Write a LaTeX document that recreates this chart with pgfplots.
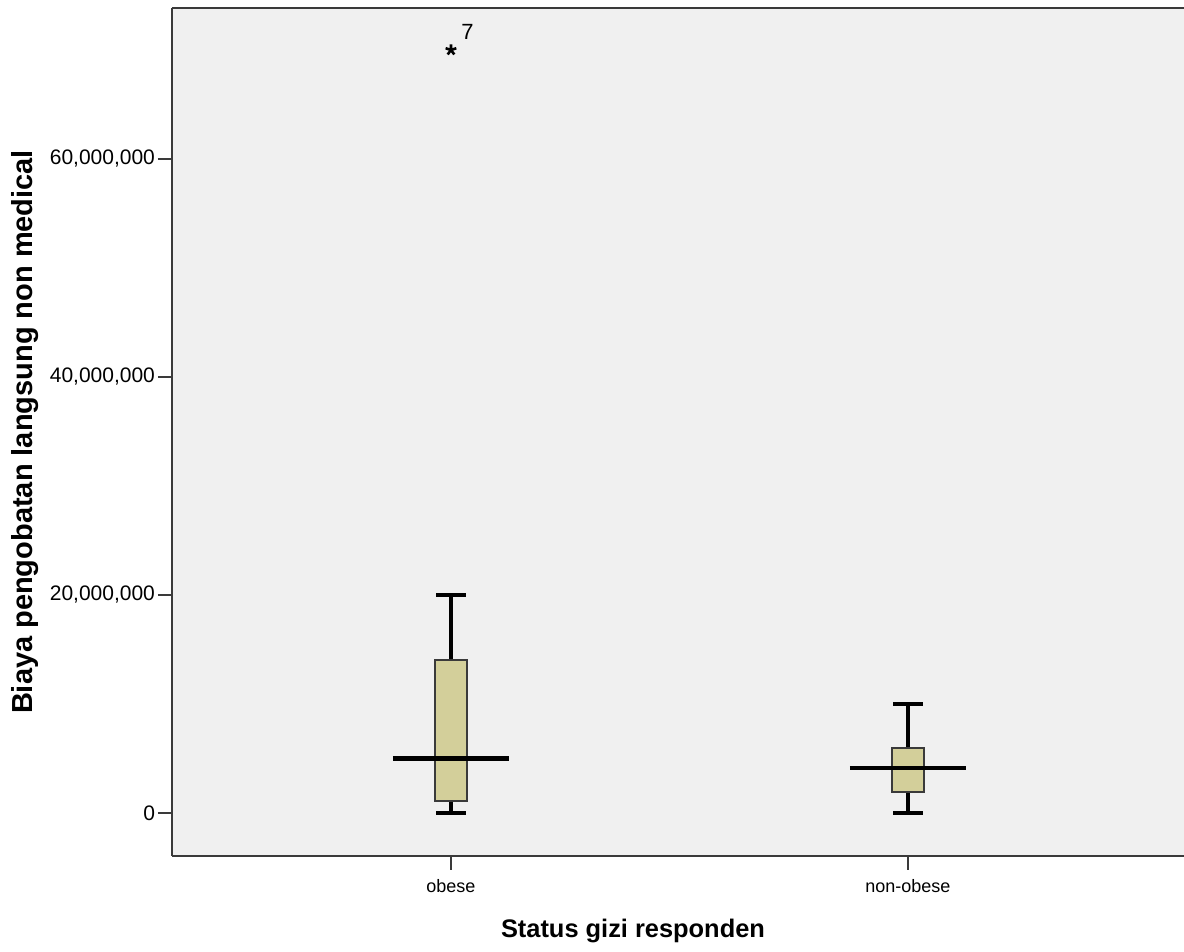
\documentclass[border=0pt]{standalone}
\usepackage{pgfplots}
\pgfplotsset{compat=1.18}
\usepgfplotslibrary{statistics}
\usepackage{fontspec}
\setmainfont{Liberation Sans}
\definecolor{bggray}{HTML}{F0F0F0}
\definecolor{boxfill}{HTML}{D3CF9A}
\definecolor{frame}{HTML}{3A3A3A}
\begin{document}
\begin{tikzpicture}
\begin{axis}[
  at={(0,0)}, anchor=south west,
  scale only axis, width=506pt, height=424pt,
  xmin=0.3895, xmax=2.604,
  ymin=-3.945, ymax=73.85,
  axis background/.style={fill=bggray},
  axis x line*=bottom, axis y line*=left,
  axis line style={-, draw=frame, line width=1.4pt},
  xtick={1,2}, xticklabels={obese,non-obese},
  ytick={0,20,40,60},
  yticklabels={0,{20,000,000},{40,000,000},{60,000,000}},
  tick align=outside, major tick length=7pt,
  tick style={draw=frame, line width=0.8pt},
  ticklabel style={font=\fontsize{10.5}{12}\selectfont},
  yticklabel style={xshift=2pt},
  xticklabel style={font=\fontsize{9}{11}\selectfont, yshift=-1pt},
  ylabel={\bfseries Biaya pengobatan langsung non medical},
  ylabel style={font=\fontsize{14.5}{16}\selectfont, at={(axis description cs:0,0.5)}, anchor=center, yshift=73.5pt},
  xlabel={\bfseries Status gizi responden},
  xlabel style={font=\fontsize{12.7}{14}\selectfont, at={(axis description cs:0.4555,0)}, anchor=base, yshift=-41pt},
  clip=false,
  boxplot/draw direction=y,
  boxplot/box extend=0.068,
  boxplot/whisker extend=0.064,
  boxplot/draw/median/.code={%
    \draw[/pgfplots/boxplot/every median/.try]
      (boxplot box cs:\pgfplotsboxplotvalue{median},-1.37)
      --
      (boxplot box cs:\pgfplotsboxplotvalue{median},2.37);
  },
  boxplot/every median/.style={draw=black, line width=2.2pt},
  boxplot/every whisker/.style={draw=black, line width=1.8pt},
  boxplot/every box/.style={draw=frame, line width=1pt, fill=boxfill},
]
\addplot+[boxplot prepared={draw position=1,
  lower whisker=0, lower quartile=1.1, median=5.0,
  upper quartile=14.0, upper whisker=20.0},
  draw=black, mark=star, mark size=2.8pt, mark options={draw=black, fill=black, line width=1.3pt}]
  coordinates {(0,70.0)};
\addplot+[boxplot prepared={draw position=2,
  lower whisker=0, lower quartile=1.9, median=4.1,
  upper quartile=6.0, upper whisker=10.0},
  draw=black]
  coordinates {};
\node[font=\fontsize{11}{12}\selectfont, anchor=base west, inner sep=0pt] at (axis cs:1,70.0) [xshift=5pt, yshift=5pt] {7};
\draw[frame, line width=1.4pt] (rel axis cs:0,1) -- (rel axis cs:1,1);
\end{axis}
\pgfresetboundingbox
\path[use as bounding box] (-86pt,-48pt) rectangle (506pt,428pt);
\end{tikzpicture}
\end{document}
